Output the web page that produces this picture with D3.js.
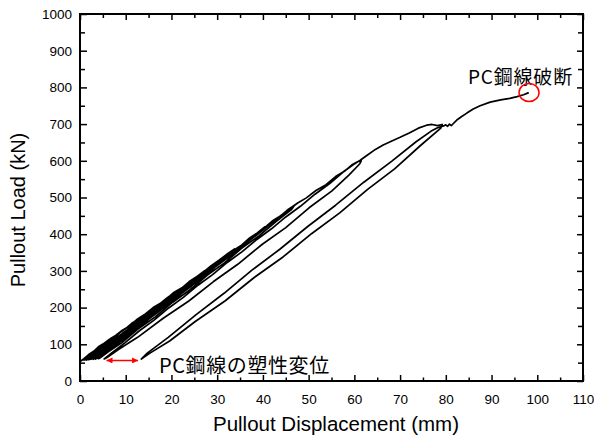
<!DOCTYPE html>
<html>
<head>
<meta charset="utf-8">
<script src="https://cdn.jsdelivr.net/npm/d3@7"></script>
<style>
html,body{margin:0;padding:0;background:#fff;}
svg{display:block;}
</style>
</head>
<body>
<svg id="chart" width="594" height="436"></svg>
<script>
// ---- data (displacement mm, load kN) ----
const xTicks = [0,10,20,30,40,50,60,70,80,90,100,110];
const yTicks = [0,100,200,300,400,500,600,700,800,900,1000];
const xLabel = "Pullout Displacement (mm)";
const yLabel = "Pullout Load (kN)";
const noteBreak = "PC鋼線破断";
const notePlastic = "PC鋼線の塑性変位";

const initialLoad = [[0,53],[0.8,60],[1.9,72],[3.0,81],[4.2,95],[5.3,103],[6.4,113],[7.4,120]];
const unload120 = [[7.4,120],[7.1,114],[6.2,103],[5.0,93],[3.8,80],[2.7,71],[1.6,61],[0.9,57]];
const reload180 = [[0.9,57],[1.7,67],[2.9,78],[4.2,92],[5.4,102],[6.7,116],[7.8,124],[9.0,136],[10.3,146],[11.5,159],[12.8,168],[14.0,180]];
const unload180 = [[14.0,180],[13.7,173],[12.5,162],[11.0,145],[9.4,131],[7.9,114],[6.2,99],[4.7,83],[3.1,69],[1.9,60],[1.4,57]];
const reload240 = [[1.4,57],[2.4,69],[3.9,83],[5.6,101],[7.3,116],[9.1,135],[10.9,151],[12.6,169],[14.3,183],[16.0,200],[17.5,211],[19.1,227],[20.6,240]];
const unload240 = [[20.6,240],[20.2,232],[18.6,218],[16.5,196],[14.3,177],[12.0,153],[9.8,133],[7.5,109],[5.4,91],[3.6,71],[2.4,62],[1.9,58]];
const reload300 = [[1.9,58],[3.1,71],[5.0,88],[7.2,111],[9.4,130],[11.7,154],[13.9,174],[16.2,198],[18.4,218],[20.6,242],[22.3,254],[23.9,271],[25.6,285],[27.2,300]];
const unload300 = [[27.2,300],[26.7,291],[24.6,272],[22.1,246],[19.5,223],[16.9,196],[14.3,173],[11.6,146],[9.0,122],[6.5,96],[4.4,77],[2.9,63],[2.4,59]];
const reload360 = [[2.4,59],[3.7,73],[6.1,94],[8.7,121],[11.2,144],[13.9,171],[16.4,194],[19.1,222],[21.7,246],[24.4,274],[26.9,296],[28.7,314],[30.4,329],[32.2,346],[33.8,360]];
const unload360 = [[33.8,360],[33.2,350],[30.7,327],[27.8,297],[24.9,271],[21.9,240],[18.9,213],[15.9,182],[12.9,155],[10.0,125],[7.2,99],[4.9,77],[3.3,62],[2.9,59]];
const reload420 = [[2.9,59],[4.3,74],[7.1,99],[10.0,130],[13.0,157],[16.0,188],[19.0,215],[22.1,246],[25.0,273],[28.1,304],[31.0,330],[33.7,357],[35.4,371],[37.1,390],[38.7,403],[40.4,420]];
const unload420 = [[40.4,420],[39.8,409],[36.9,381],[33.4,345],[30.0,315],[26.6,279],[23.2,249],[19.8,213],[16.4,183],[13.0,147],[9.7,119],[6.7,88],[4.3,68],[3.4,60]];
const reload480 = [[3.4,60],[5.0,76],[8.1,105],[11.5,140],[14.9,171],[18.3,206],[21.7,237],[25.1,272],[28.5,303],[31.9,338],[35.3,369],[38.5,401],[40.7,421],[42.3,438],[44.0,451],[45.6,468],[47.0,480]];
const unload480 = [[47.0,480],[46.3,468],[43.0,436],[39.2,396],[35.4,362],[31.6,322],[27.8,288],[24.0,248],[20.2,214],[16.4,174],[12.6,141],[9.1,104],[6.1,79],[4.4,63],[4.0,61]];
const reload600 = [[4.0,61],[5.7,78],[9.2,111],[13.0,150],[16.8,185],[20.6,224],[24.4,259],[28.2,298],[32.0,333],[35.8,372],[39.6,407],[43.3,445],[46.4,474],[47.6,485],[49.5,499],[51.6,519],[53.8,535],[55.9,557],[58.0,573],[59.6,590],[60.6,597],[61.5,600]];
const unload600 = [[61.5,600],[61.2,592],[58.8,561],[55.1,518],[50.1,472],[45.0,418],[39.8,372],[34.5,318],[29.2,271],[23.8,218],[18.2,171],[12.6,119],[8.4,86],[5.9,64],[5.3,60]];
const reload700 = [[5.3,60],[6.8,75],[9.8,104],[13.0,137],[16.2,166],[19.4,199],[22.6,228],[25.8,261],[29.0,290],[32.2,323],[35.4,352],[38.6,385],[41.8,414],[45.0,447],[48.2,476],[51.4,509],[54.6,538],[57.6,570],[59.8,590],[61.2,601],[62.8,615],[64.6,631],[66.3,643],[68.2,654],[70.0,664],[72.0,676],[74.0,689],[75.8,697],[77.0,699],[78.2,696],[79.2,699]];
const unload700 = [[79.2,699],[78.9,689],[74.4,641],[68.8,578],[62.9,522],[56.8,458],[50.7,402],[44.4,338],[38.1,282],[31.7,218],[25.2,162],[19.6,109],[15.3,76],[13.4,60]];
const reloadFinal = [[13.4,60],[14.7,76],[19.3,119],[25.4,181],[31.5,239],[37.6,302],[43.7,359],[49.8,421],[55.9,479],[62.0,541],[68.2,599],[73.5,652],[76.8,681],[78.2,690],[79.5,695],[80.0,698],[80.4,694],[80.8,700],[81.2,696],[81.6,701],[82.4,711],[83.4,720],[84.6,730],[86.0,741],[87.5,750],[89.7,760],[92.0,766],[94.0,770],[95.6,775],[97.0,780],[98.0,785]];

const breakPoint = [98.2, 786];          // red circle (rupture)
const plasticArrow = [[5.8, 56], [12.7, 56]]; // red double arrow

const segments = [initialLoad, unload120, reload180, unload180, reload240, unload240,
  reload300, unload300, reload360, unload360, reload420, unload420, reload480, unload480,
  reload600, unload600, reload700, unload700, reloadFinal];

// ---- layout ----
const L = 80, R = 583, T = 14, B = 381;
const svg = d3.select("#chart");
const x = d3.scaleLinear().domain([0,110]).range([L,R]);
const y = d3.scaleLinear().domain([0,1000]).range([B,T]);

const tickFont = "'Liberation Sans', Arial, sans-serif";

const xMinor = d3.range(5,110,10);
const yMinor = d3.range(50,1000,100);

function styleAxis(g){
  g.select(".domain").remove();
  g.selectAll(".tick line").attr("stroke","#000").attr("stroke-width",1.5);
  g.selectAll("text").attr("font-family",tickFont).attr("font-size","13.5px").attr("fill","#000");
}

svg.append("g").attr("transform",`translate(0,${B})`)
  .call(d3.axisBottom(x).tickValues(xTicks).tickSizeInner(-6).tickSizeOuter(0).tickPadding(13).tickFormat(d3.format("d")))
  .call(styleAxis);
svg.append("g").attr("transform",`translate(0,${B})`)
  .call(d3.axisBottom(x).tickValues(xMinor).tickSizeInner(-3.5).tickSizeOuter(0).tickFormat(""))
  .call(styleAxis);
svg.append("g").attr("transform",`translate(0,${T})`)
  .call(d3.axisTop(x).tickValues(xTicks).tickSizeInner(-6).tickSizeOuter(0).tickFormat(""))
  .call(styleAxis);
svg.append("g").attr("transform",`translate(0,${T})`)
  .call(d3.axisTop(x).tickValues(xMinor).tickSizeInner(-4).tickSizeOuter(0).tickFormat(""))
  .call(styleAxis);
svg.append("g").attr("transform",`translate(${L},0)`)
  .call(d3.axisLeft(y).tickValues(yTicks).tickSizeInner(-7).tickSizeOuter(0).tickPadding(8).tickFormat(d3.format("d")))
  .call(styleAxis);
svg.append("g").attr("transform",`translate(${L},0)`)
  .call(d3.axisLeft(y).tickValues(yMinor).tickSizeInner(-5).tickSizeOuter(0).tickFormat(""))
  .call(styleAxis);
svg.append("g").attr("transform",`translate(${R},0)`)
  .call(d3.axisRight(y).tickValues(yTicks).tickSizeInner(-6).tickSizeOuter(0).tickFormat(""))
  .call(styleAxis);
svg.append("g").attr("transform",`translate(${R},0)`)
  .call(d3.axisRight(y).tickValues(yMinor).tickSizeInner(-5).tickSizeOuter(0).tickFormat(""))
  .call(styleAxis);

// frame
svg.append("rect").attr("x",L).attr("y",T).attr("width",R-L).attr("height",B-T)
  .attr("fill","none").attr("stroke","#000").attr("stroke-width",2);

// curve
const line = d3.line().x(d=>x(d[0])).y(d=>y(d[1]));
const path = [];
segments.forEach((s,i)=>{ s.forEach((p,j)=>{ if(i===0 || j>0) path.push(p); }); });
svg.append("path").datum(path).attr("d",line)
  .attr("fill","none").attr("stroke","#000").attr("stroke-width",1.7)
  .attr("stroke-linejoin","round").attr("stroke-linecap","round");

// axis titles
svg.append("text").attr("x",336).attr("y",431).attr("text-anchor","middle")
  .attr("font-family",tickFont).attr("font-size","20.5px").text(xLabel);
svg.append("text").attr("transform","translate(25,210) rotate(-90)").attr("text-anchor","middle")
  .attr("font-family",tickFont).attr("font-size","20px").text(yLabel);

// annotations
const jpFont = "'Noto Sans CJK JP', sans-serif";
svg.append("text").attr("x",468).attr("y",84).attr("font-family",jpFont)
  .attr("font-size","19px").attr("letter-spacing","0.8px").text(noteBreak);
svg.append("text").attr("x",159).attr("y",373).attr("font-family",jpFont)
  .attr("font-size","20px").attr("letter-spacing","0.6px").text(notePlastic);

svg.append("ellipse").attr("cx",x(breakPoint[0])).attr("cy",y(breakPoint[1]))
  .attr("rx",10).attr("ry",9).attr("fill","none").attr("stroke","#ff0000").attr("stroke-width",1.5);

const defs = svg.append("defs");
defs.append("marker").attr("id","ah").attr("viewBox","0 0 10 10").attr("refX",10).attr("refY",5)
  .attr("markerWidth",7).attr("markerHeight",6).attr("markerUnits","userSpaceOnUse").attr("orient","auto-start-reverse")
  .append("path").attr("d","M0,0L10,5L0,10Z").attr("fill","#ff0000");
svg.append("line").attr("x1",x(plasticArrow[0][0])).attr("y1",y(plasticArrow[0][1]))
  .attr("x2",x(plasticArrow[1][0])).attr("y2",y(plasticArrow[1][1]))
  .attr("stroke","#ff0000").attr("stroke-width",1.5)
  .attr("marker-start","url(#ah)").attr("marker-end","url(#ah)");
</script>
</body>
</html>
